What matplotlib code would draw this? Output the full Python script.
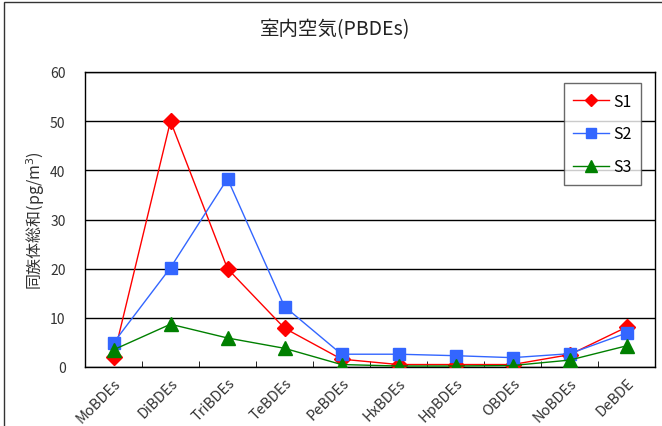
import numpy as np
import matplotlib
matplotlib.use("Agg")
import matplotlib.pyplot as plt
from matplotlib.patches import Rectangle

plt.rcParams["font.family"] = ["Noto Sans CJK JP", "DejaVu Sans"]

# Data
categories = ["MoBDEs", "DiBDEs", "TriBDEs", "TeBDEs", "PeBDEs",
              "HxBDEs", "HpBDEs", "OBDEs", "NoBDEs", "DeBDE"]
s1 = [2.0, 50.0, 20.0, 7.9, 1.6, 0.5, 0.5, 0.5, 2.5, 8.1]
s2 = [4.9, 20.2, 38.3, 12.3, 2.6, 2.6, 2.3, 1.9, 2.7, 6.9]
s3 = [3.5, 8.7, 5.9, 3.8, 0.5, 0.2, 0.2, 0.3, 1.4, 4.3]

fig = plt.figure(figsize=(6.62, 4.27), dpi=100)
ax = fig.add_axes([85 / 662, 1 - 368 / 427, 570 / 662, 295 / 427])

x = np.arange(len(categories))
ax.plot(x, s1, color="#ff0000", lw=1, marker="D", ms=8, label="S1", zorder=3)
ax.plot(x, s2, color="#3366ff", lw=1, marker="s", ms=9, label="S2", zorder=3)
ax.plot(x, s3, color="#008000", lw=1, marker="^", ms=10, label="S3", zorder=3)

ax.set_xlim(-0.5, len(categories) - 0.5)
ax.set_ylim(0, 60)
ax.set_yticks(range(0, 61, 10))
ax.yaxis.grid(True, color="black", lw=1)
ax.set_axisbelow(True)
ax.tick_params(axis="y", length=0, labelsize=10, labelcolor="#333333", pad=14)

# category boundary ticks
ax.set_xticks(x)
ax.set_xticklabels(categories, rotation=45, ha="right", rotation_mode="anchor",
                   fontsize=10.5, color="#333333")
ax.tick_params(axis="x", length=0, pad=6)
ax.set_xticks(np.arange(0.5, len(categories) - 1, 1), minor=True)
ax.tick_params(axis="x", which="minor", direction="in", length=4)

for sp in ax.spines.values():
    sp.set_color("black")
    sp.set_linewidth(1)

ax.set_ylabel("同族体総和(pg/m$^3$)", fontsize=11.5, color="#333333", labelpad=2)
fig.text(335 / 662, 1 - 30 / 427, "室内空気(PBDEs)", ha="center", va="center",
         fontsize=14, color="#222222")

leg = ax.legend(loc="upper right", bbox_to_anchor=(0.99, 0.99), fontsize=11.5,
                frameon=True, fancybox=False, edgecolor="#444444",
                labelspacing=1.0, handlelength=2.2, borderpad=0.6,
                handletextpad=0.3, markerscale=0.8)
leg.get_frame().set_linewidth(1)

fig.patches.append(Rectangle((4 / 662, -0.1), 1.2, 1 - 3 / 427 + 0.1,
                             transform=fig.transFigure, fill=False,
                             edgecolor="#333333", lw=1))

fig.savefig("out.png", dpi=100)
